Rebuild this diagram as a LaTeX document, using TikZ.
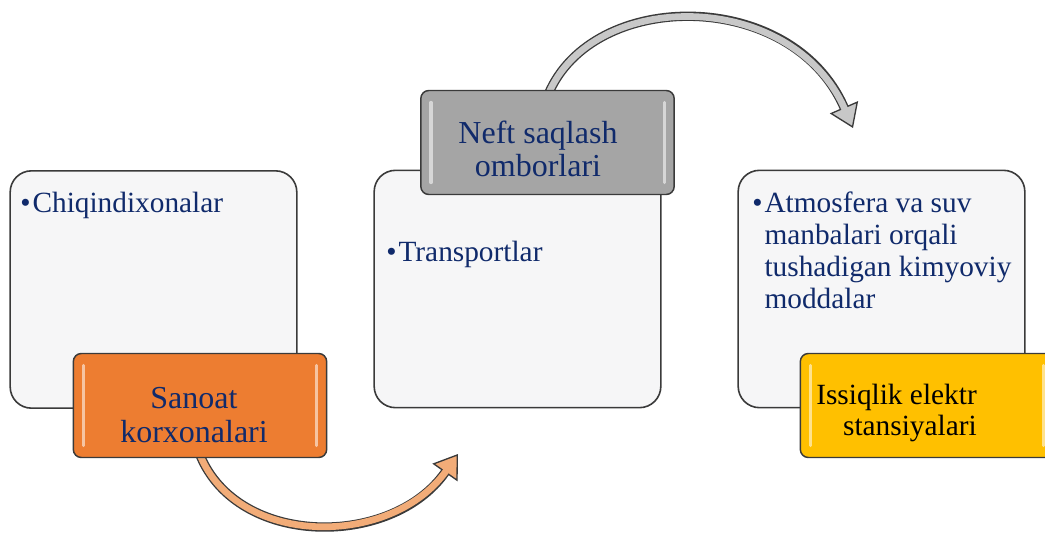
\documentclass[tikz,border=0pt]{standalone}
\usepackage{fontspec}
\setmainfont{Liberation Serif}
\usetikzlibrary{arrows.meta}
\definecolor{navy}{HTML}{102A6B}
\definecolor{boxline}{HTML}{3A3A3A}
\definecolor{panelfill}{HTML}{F6F6F7}
\definecolor{orng}{HTML}{ED7D31}
\definecolor{orngarrow}{HTML}{F2AC78}
\definecolor{grey}{HTML}{A5A5A5}
\definecolor{greyarrow}{HTML}{C8C8C8}
\definecolor{yell}{HTML}{FFC000}
\tikzset{
  panel/.style={draw=boxline,line width=1.2pt,fill=panelfill,rounded corners=16pt,
    minimum width=215pt,minimum height=178pt,inner sep=0pt},
  tag/.style={draw=boxline,line width=1.1pt,rounded corners=6pt,
    minimum width=190pt,minimum height=78pt,inner sep=0pt,
    path picture={
      \draw[white,opacity=.55,line width=2.5pt,line cap=round]
        ([xshift=7.5pt,yshift=-9pt]path picture bounding box.north west)--([xshift=7.5pt,yshift=9pt]path picture bounding box.south west)
        ([xshift=-7.5pt,yshift=-9pt]path picture bounding box.north east)--([xshift=-7.5pt,yshift=9pt]path picture bounding box.south east);}},
  txt/.style={font=\fontsize{22}{24}\selectfont,text=navy,inner sep=0pt},
  tagtxt/.style={txt,font=\fontsize{24}{25}\selectfont},
  item/.style={txt,anchor=base west}
}
\newcommand{\itemlist}[1]{\begin{tabular}[t]{@{}l@{\hspace{1.5pt}}l@{}}#1\end{tabular}}
\begin{document}
\begin{tikzpicture}[x=0.75pt,y=-0.75pt]
\useasboundingbox (0,0) rectangle (1045,534);
% panels
\node[panel] (chiq) at (153.5,289.5) {};
\node[panel] (transp) at (517.5,289) {};
\node[panel] (atmos) at (881.5,289) {};
\node[item] (chiqT) at (20,213) {\itemlist{\textbullet & Chiqindixonalar}};
\node[item] (transpT) at (386,262) {\itemlist{\textbullet & Transportlar}};
\node[item] (atmosT) at (752,213) {\itemlist{\textbullet & Atmosfera va suv\\ & manbalari orqali\\ & tushadigan kimyoviy\\ & moddalar}};
% arrows
\coordinate (tipA) at (458,454);
\coordinate (tipB) at (853,128);
\draw[line width=7pt,boxline,-{Triangle[length=17pt,width=23pt,line width=1pt,fill=orngarrow]}]
  (200,455) .. controls (238,548) and (392,548) .. (tipA);
\draw[line width=5pt,orngarrow,shorten >=15pt] (200,455) .. controls (238,548) and (392,548) .. (tipA);
\draw[line width=7pt,boxline,-{Triangle[length=17pt,width=23pt,line width=1pt,fill=greyarrow]}]
  (548,95) .. controls (592,-12) and (792,-12) .. (tipB);
\draw[line width=5pt,greyarrow,shorten >=15pt] (548,95) .. controls (592,-12) and (792,-12) .. (tipB);
% coloured tags
\node[tag,fill=orng] (sanoat) at (200,405.5) {};
\node[tag,fill=grey] (neft) at (547.5,142.5) {};
\node[tag,fill=yell] (issiq) at (927,405.5) {};
\node[tagtxt,align=center] (sanoatT) at (194,415) {Sanoat\\korxonalari};
\node[tagtxt,align=center] (neftT) at (538,149) {Neft saqlash\\omborlari};
\node[txt,font=\fontsize{22}{23}\selectfont,align=right,text=black,anchor=east] (issiqT) at (977,413) {Issiqlik elektr\\stansiyalari};
\end{tikzpicture}
\end{document}
